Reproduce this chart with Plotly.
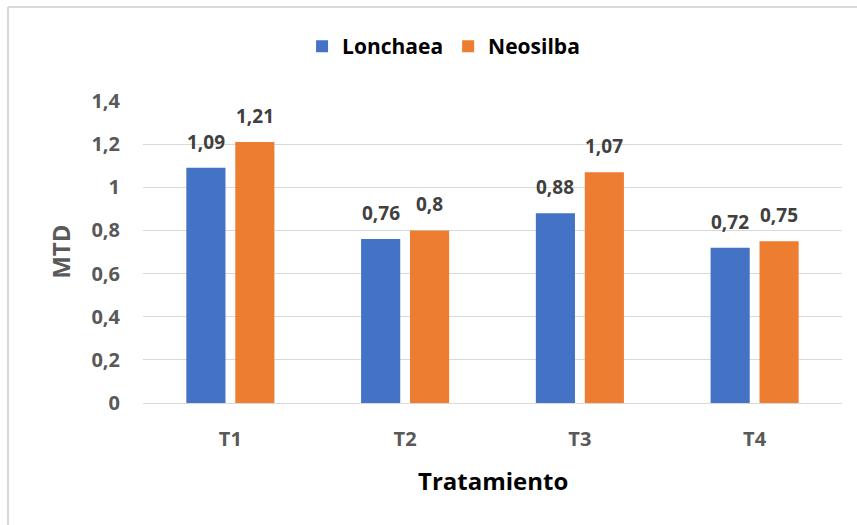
import plotly.graph_objects as go

categories = ["T1", "T2", "T3", "T4"]
lonchaea = [1.09, 0.76, 0.88, 0.72]
neosilba = [1.21, 0.80, 1.07, 0.75]
series_names = ["Lonchaea", "Neosilba"]
y_ticks = [0, 0.2, 0.4, 0.6, 0.8, 1.0, 1.2, 1.4]
y_tick_text = ["0", "0,2", "0,4", "0,6", "0,8", "1", "1,2", "1,4"]

BLUE = "#4472C4"
ORANGE = "#ED7D31"
FONT = "Open Sans"
GRID = "#D9D9D9"


def fmt(v):
    s = f"{v:.2f}".rstrip("0").rstrip(".")
    return s.replace(".", ",")


fig = go.Figure()
fig.add_trace(go.Bar(x=categories, y=lonchaea, name=series_names[0],
                     marker=dict(color=BLUE, line=dict(width=0))))
fig.add_trace(go.Bar(x=categories, y=neosilba, name=series_names[1],
                     marker=dict(color=ORANGE, line=dict(width=0))))

# value labels above each bar
annotations = []
for vals, shift in ((lonchaea, -24.5), (neosilba, 24.5)):
    for cat, v in zip(categories, vals):
        annotations.append(dict(
            x=cat, y=v, xref="x", yref="y", text=fmt(v), showarrow=False,
            xshift=shift, yshift=11, yanchor="bottom", xanchor="center",
            font=dict(family=FONT, size=19, color="#404040", weight="bold")))

annotations.append(dict(
    x=-0.119, y=0.5, xref="paper", yref="paper", text="MTD", textangle=-90,
    xanchor="center", yanchor="middle",
    showarrow=False, font=dict(family=FONT, size=24, color="#595959", weight="bold")))
annotations.append(dict(
    x=(493 - 143) / 699, y=-0.255, xref="paper", yref="paper", text="Tratamiento",
    xanchor="center", yanchor="middle",
    showarrow=False, font=dict(family=FONT, size=24, color="#000000", weight="bold")))

fig.update_layout(
    width=857, height=525,
    margin=dict(l=143, r=15, t=101, b=122),
    paper_bgcolor="white", plot_bgcolor="white",
    barmode="group", bargap=0.44, bargroupgap=0.2,
    font=dict(family=FONT),
    legend=dict(orientation="h", x=0.43, xanchor="center", y=1.18, yanchor="middle",
                font=dict(family=FONT, size=21, color="#000000", weight="bold"),
                itemsizing="constant", traceorder="normal", itemwidth=30,
                tracegroupgap=0),
    annotations=annotations,
    shapes=[
        dict(type="line", xref="paper", yref="paper",
             x0=-135 / 699, x1=715 / 699, y0=(403 - 7) / 302, y1=(403 - 7) / 302,
             line=dict(color=GRID, width=2)),
        dict(type="line", xref="paper", yref="paper",
             x0=-135 / 699, x1=-135 / 699, y0=(403 - 7) / 302, y1=-130 / 302,
             line=dict(color=GRID, width=2)),
    ],
)

fig.update_yaxes(range=[0, 1.4], tickvals=y_ticks, ticktext=y_tick_text,
                 showgrid=True, gridcolor=GRID, gridwidth=1,
                 zeroline=False, showline=False, ticks="",
                 ticklabelstandoff=22,
                 tickfont=dict(family=FONT, size=20, color="#595959", weight="bold"))
fig.update_xaxes(showline=True, linecolor=GRID, linewidth=1, ticks="",
                 ticklabelstandoff=18,
                 tickfont=dict(family=FONT, size=20, color="#595959", weight="bold"))

fig.write_html("out.html")
